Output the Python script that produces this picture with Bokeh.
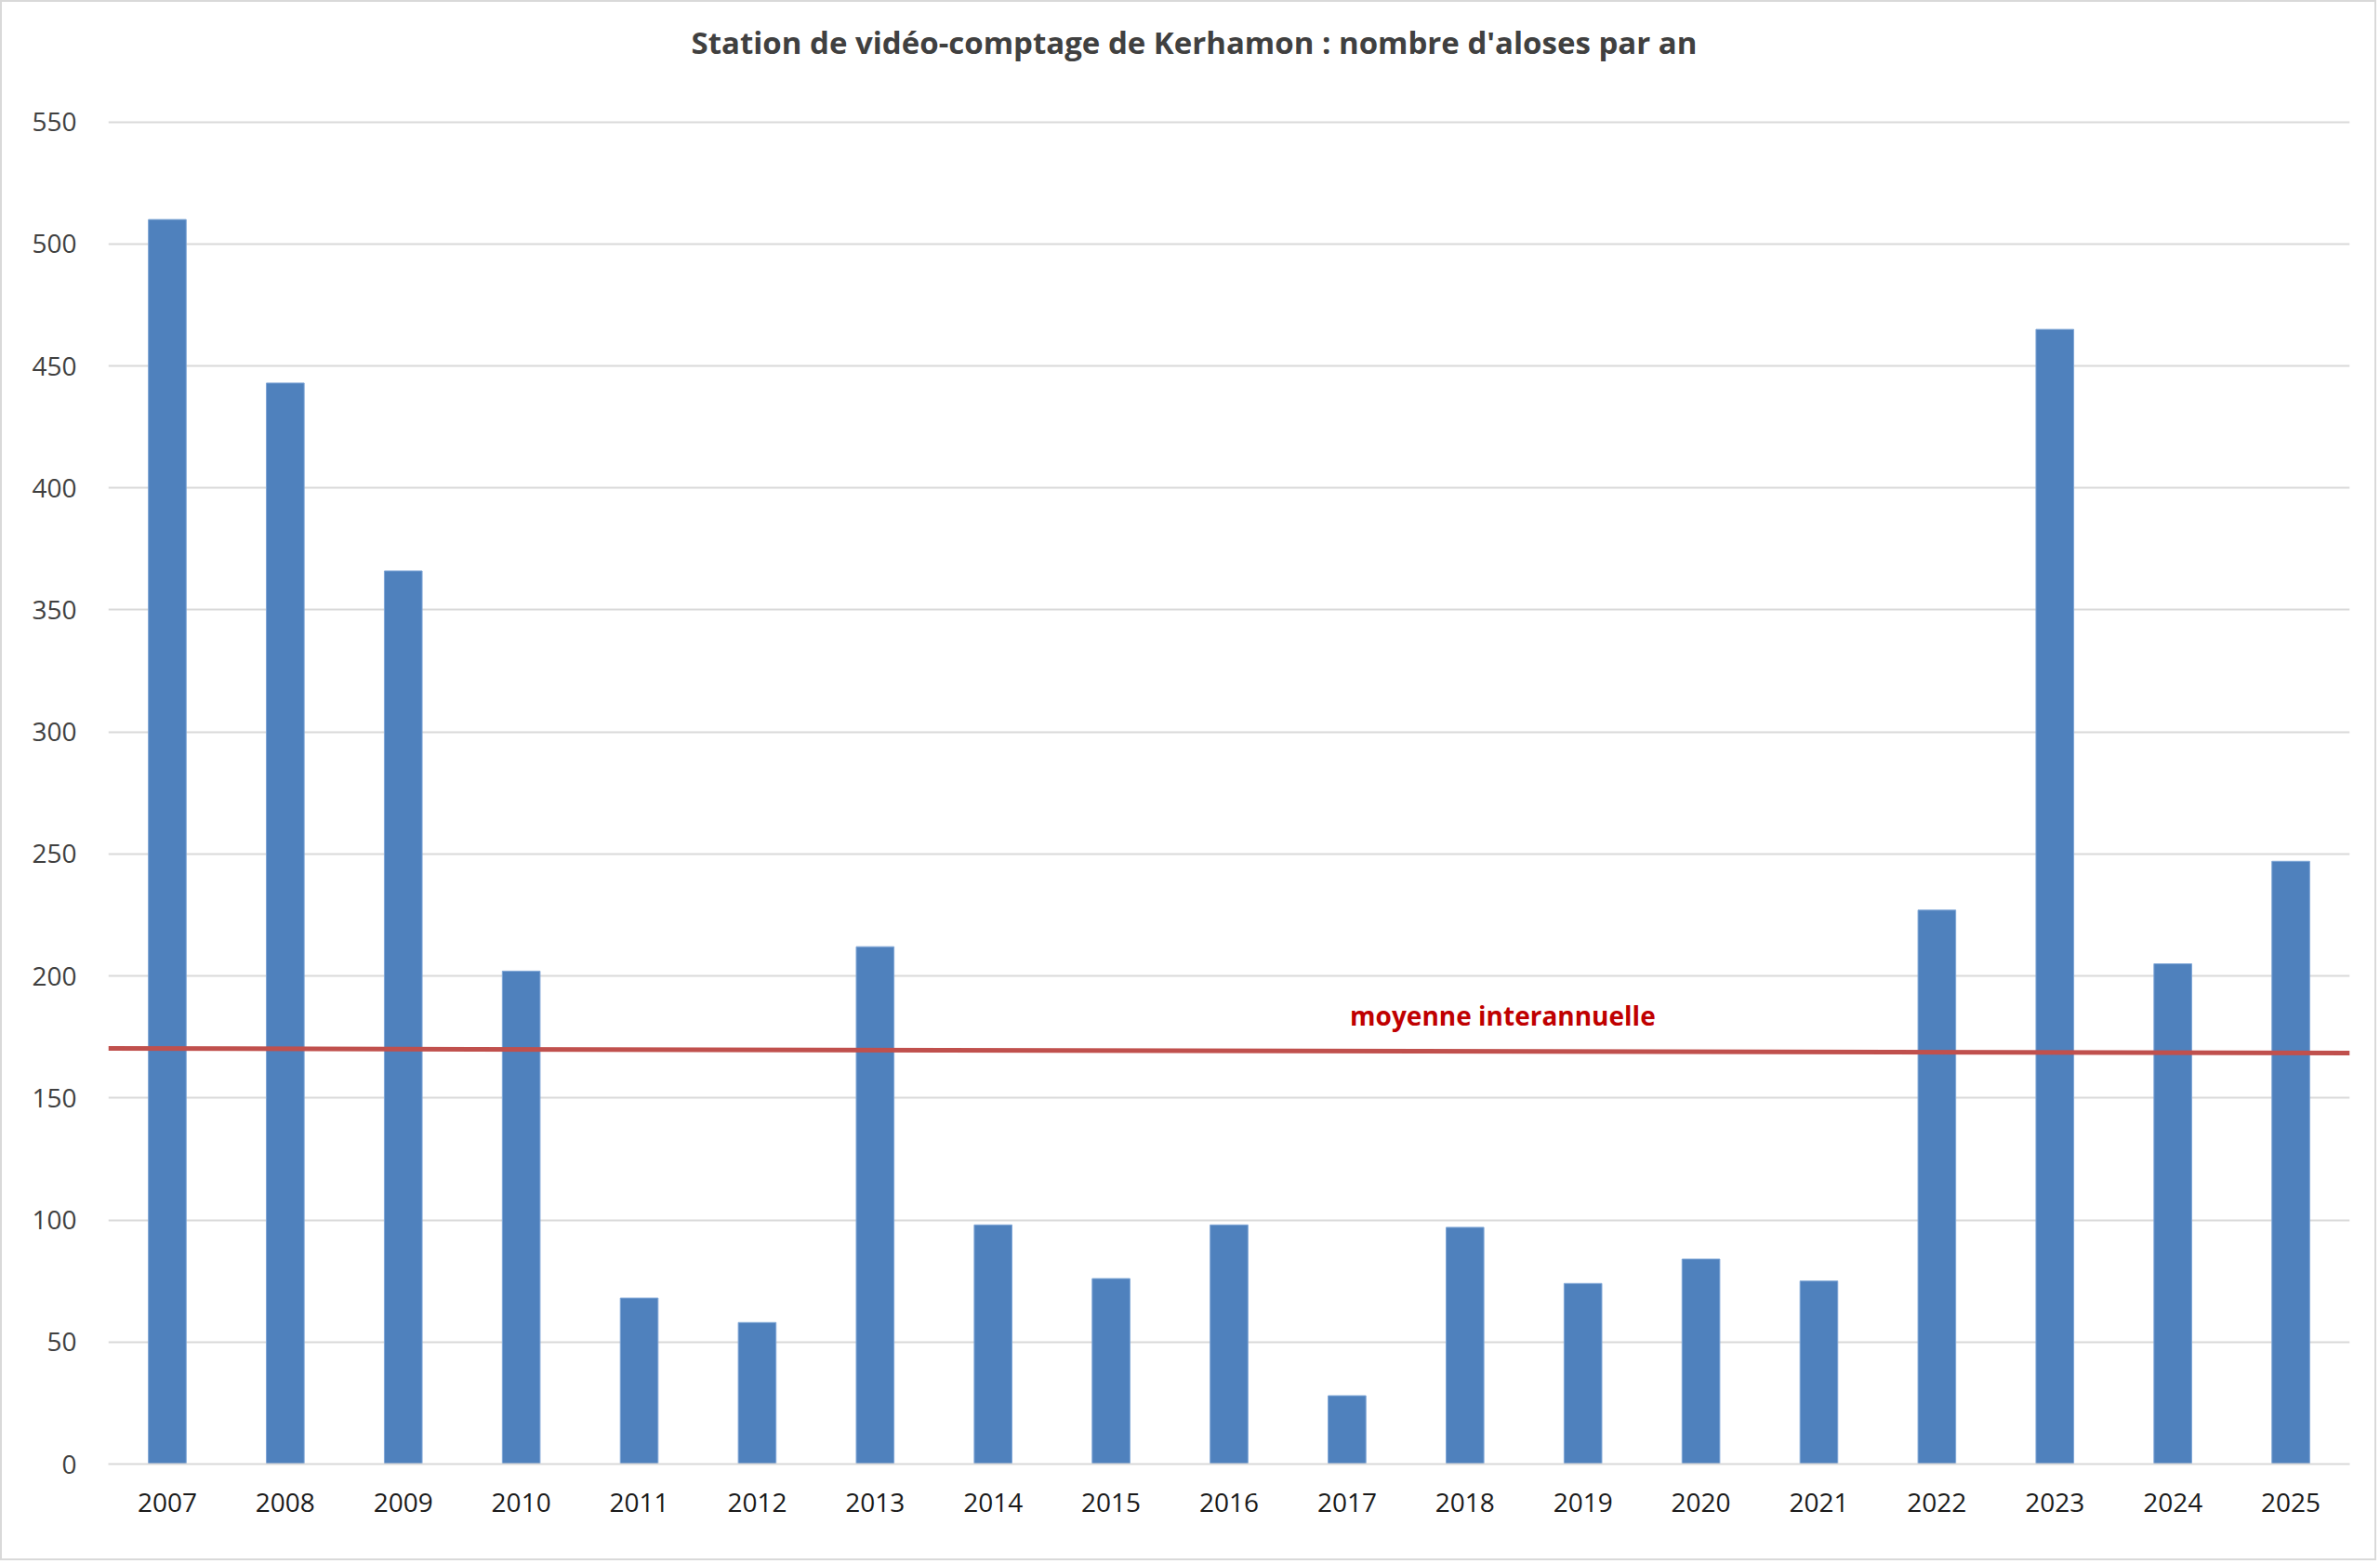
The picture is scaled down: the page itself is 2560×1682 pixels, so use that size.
from bokeh.plotting import figure
from bokeh.models import Range1d, FixedTicker, ColumnDataSource, Label, Title
from bokeh.embed import file_html
from bokeh.resources import INLINE

years = ["2007", "2008", "2009", "2010", "2011", "2012", "2013", "2014", "2015", "2016",
         "2017", "2018", "2019", "2020", "2021", "2022", "2023", "2024", "2025"]
counts = [510, 443, 366, 202, 68, 58, 212, 98, 76, 98, 28, 97, 74, 84, 75, 227, 465, 205, 247]
mean_label = "moyenne interannuelle"
mean_start_end = [170.3, 168.4]
y_ticks = list(range(0, 551, 50))
title_text = "Station de vidéo-comptage de Kerhamon : nombre d'aloses par an"

pos = list(range(1, len(years) + 1))
src = ColumnDataSource(dict(x=pos, top=counts))

p = figure(width=2556, height=1678, output_backend="svg", toolbar_location=None, title=None,
           x_range=Range1d(0.5, len(years) + 0.5), y_range=Range1d(0, 551),
           min_border_left=114, min_border_right=31, min_border_top=126, min_border_bottom=106)
p.styles = {"border": "2px solid #D9D9D9"}
p.background_fill_color = "white"
p.border_fill_color = "white"
p.outline_line_color = None

spacer = Title(text=" ", text_font_size="1px", standoff=53)
main_title = Title(text=title_text, align="left", offset=627, standoff=10,
                   text_font="Open Sans", text_font_size="33px", text_font_style="bold",
                   text_color="#404040")
p.add_layout(spacer, "above")
p.add_layout(main_title, "above")

p.vbar(x="x", top="top", width=0.32, source=src, fill_color="#4F81BD",
       line_color="#7FA6D6", line_width=1)

p.line(x=[0.5, len(years) + 0.5], y=mean_start_end, line_color="#C0504D", line_width=5)
p.add_layout(Label(x=12.32, y=184, text=mean_label, text_align="center", text_baseline="middle",
                   text_font="Open Sans", text_font_style="bold", text_font_size="28px",
                   text_color="#C00000"))

p.xaxis.ticker = FixedTicker(ticks=pos)
p.xaxis.major_label_overrides = {i: y for i, y in zip(pos, years)}
p.yaxis.ticker = FixedTicker(ticks=y_ticks)

for ax in (p.xaxis, p.yaxis):
    ax.major_label_text_font = "Open Sans"
    ax.major_tick_line_color = None
    ax.minor_tick_line_color = None
p.xaxis.major_label_text_font_size = "28px"
p.yaxis.major_label_text_font_size = "28px"
p.xaxis.major_label_text_color = "#1A1A1A"
p.yaxis.major_label_text_color = "#404040"
p.xaxis.axis_line_color = "#D9D9D9"
p.xaxis.axis_line_width = 2
p.yaxis.axis_line_color = None
p.xaxis.major_label_standoff = 25
p.yaxis.major_label_standoff = 28

p.xgrid.grid_line_color = None
p.ygrid.grid_line_color = "#D9D9D9"
p.ygrid.grid_line_width = 2

open("out.html", "w").write(file_html(p, INLINE))
